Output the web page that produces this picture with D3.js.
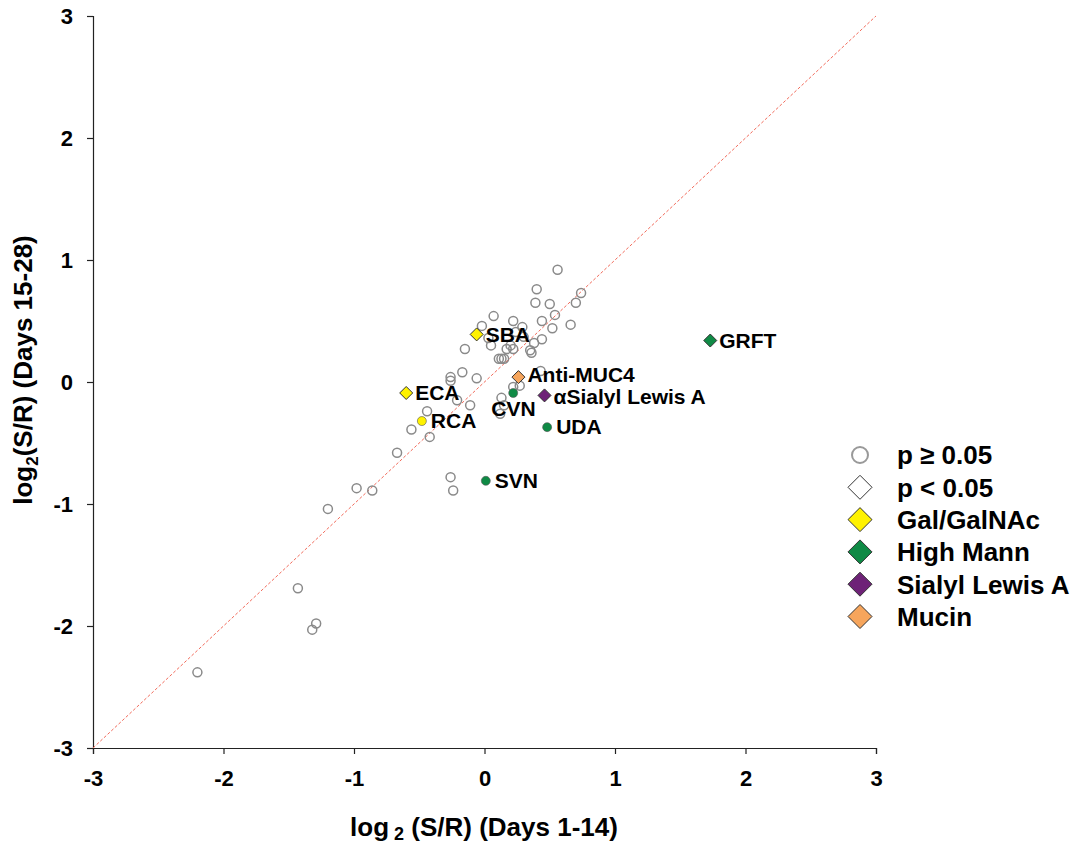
<!DOCTYPE html>
<html>
<head>
<meta charset="utf-8">
<script src="https://cdn.jsdelivr.net/npm/d3@7"></script>
<style>
  body { margin: 0; background: #fff; }
  text { font-family: Arial, "Liberation Sans", sans-serif; font-weight: bold; }
</style>
</head>
<body>
<svg></svg>
<script>
// p >= 0.05, no group highlight
let grayX = [0.56,0.40,0.74,0.39,0.50,0.70,0.54,0.07,0.44,0.66,0.22,-0.02,0.29,0.52,0.24,0.03,0.30,0.44,
             -0.15,0.05,0.20,0.22,0.17,0.38,0.35,0.36,0.11,0.13,0.15,-0.17,-0.26,-0.26,-0.06,0.43,0.22,0.27,
             0.13,0.15,0.12,-0.21,-0.11,-0.44,-0.56,-0.42,-0.67,-0.98,-0.86,-1.20,-0.26,-0.24,-1.43,-1.29,-1.32,-2.20];
let grayY = [0.92,0.76,0.73,0.65,0.64,0.65,0.55,0.54,0.50,0.47,0.50,0.46,0.45,0.44,0.41,0.36,0.37,0.35,
             0.27,0.30,0.30,0.27,0.27,0.32,0.26,0.24,0.19,0.19,0.19,0.08,0.04,0.01,0.03,0.09,-0.04,-0.03,
             -0.13,-0.19,-0.26,-0.15,-0.19,-0.24,-0.39,-0.45,-0.58,-0.87,-0.89,-1.04,-0.78,-0.89,-1.69,-1.98,-2.03,-2.38];

// highlighted lectins
let lectins = ["SBA","ECA","RCA","Anti-MUC4","CVN","αSialyl Lewis A","UDA","GRFT","SVN"];
let lectinX = [-0.06,-0.60,-0.48,0.26,0.22,0.46,0.48,1.73,0.01];
let lectinY = [0.39,-0.09,-0.32,0.04,-0.09,-0.11,-0.37,0.34,-0.81];
let lectinGroup = ["Gal/GalNAc","Gal/GalNAc","Gal/GalNAc","Mucin","High Mann","Sialyl Lewis A","High Mann","High Mann","High Mann"];
let lectinSig = [true,true,false,true,false,true,false,true,false];

let groups = ["Gal/GalNAc","High Mann","Sialyl Lewis A","Mucin"];
let groupColors = ["#fff200","#0f8a45","#6e2277","#f6a55c"];
let ticks = [-3,-2,-1,0,1,2,3];

var svgWidth = 1079, svgHeight = 846;
var svg = d3.select("svg").attr("width", svgWidth).attr("height", svgHeight);

var x = d3.scaleLinear().domain([-3,3]).range([93,876]);
var y = d3.scaleLinear().domain([-3,3]).range([748,16]);
var color = d3.scaleOrdinal().domain(groups).range(groupColors);

// axes
svg.append("g")
  .attr("transform", "translate(0,748)")
  .call(d3.axisBottom(x).tickValues(ticks).tickSize(6).tickPadding(16).tickFormat(d => String(d)));
svg.append("g")
  .attr("transform", "translate(93,0)")
  .call(d3.axisLeft(y).tickValues(ticks).tickSize(6).tickPadding(14).tickFormat(d => String(d)));
svg.selectAll(".domain, .tick line").attr("stroke", "#222").attr("stroke-width", 1.2);
svg.selectAll(".tick text").attr("font-size", 22).attr("fill", "#000")
   .style("font-family", "Arial, 'Liberation Sans', sans-serif").style("font-weight", "bold");

// identity line
svg.append("line")
  .attr("x1", x(-3)).attr("y1", y(-3)).attr("x2", x(3)).attr("y2", y(3))
  .attr("stroke", "#f26b5b").attr("stroke-width", 1).attr("stroke-dasharray", "3,2");

// gray points
svg.selectAll(".gray")
  .data(grayX)
  .enter()
  .append("circle")
  .attr("cx", d => x(d))
  .attr("cy", (d,i) => y(grayY[i]))
  .attr("r", 4.5)
  .attr("fill", "none")
  .attr("stroke", "#8a8a8a")
  .attr("stroke-width", 1.5);

function diamondPath(half) {
  return `M0,${-half}L${half},0L0,${half}L${-half},0Z`;
}

// highlighted points
var marks = svg.selectAll(".lectin")
  .data(lectins)
  .enter()
  .append("g")
  .attr("transform", (d,i) => `translate(${x(lectinX[i])},${y(lectinY[i])})`);

marks.each(function(d,i) {
  var g = d3.select(this);
  if (lectinSig[i]) {
    g.append("path").attr("d", diamondPath(6.5))
      .attr("fill", color(lectinGroup[i])).attr("stroke", "#333").attr("stroke-width", 1);
  } else {
    g.append("circle").attr("r", 4.5)
      .attr("fill", color(lectinGroup[i])).attr("stroke", "#555").attr("stroke-width", 0.6);
  }
  var lbl = g.append("text").text(d).attr("font-size", 21).attr("fill", "#000");
  if (d === "CVN") {
    lbl.attr("x", -22).attr("y", 16).attr("dy", "0.35em");
  } else if (d === "Anti-MUC4") {
    lbl.attr("x", 9).attr("y", -2).attr("dy", "0.35em");
  } else if (d === "αSialyl Lewis A") {
    lbl.attr("x", 9).attr("y", 1).attr("dy", "0.35em");
  } else {
    lbl.attr("x", 9).attr("dy", "0.35em");
  }
});

// axis titles
var xt = svg.append("text")
  .attr("x", 484).attr("y", 836)
  .attr("text-anchor", "middle")
  .attr("font-size", 26);
xt.append("tspan").text("log");
xt.append("tspan").text("2").attr("font-size", 18).attr("dx", 5).attr("dy", 4);
xt.append("tspan").text(" (S/R) (Days 1-14)").attr("dy", -4);

var yt = svg.append("text")
  .attr("transform", "translate(32,370) rotate(-90)")
  .attr("text-anchor", "middle")
  .attr("font-size", 26);
yt.append("tspan").text("log");
yt.append("tspan").text("2").attr("font-size", 17).attr("dy", 6);
yt.append("tspan").text("(S/R) (Days 15-28)").attr("dy", -6);

// legend
let legendLabels = ["p \u2265 0.05","p < 0.05"].concat(groups);
var legend = svg.selectAll(".legend")
  .data(legendLabels)
  .enter()
  .append("g")
  .attr("transform", (d,i) => `translate(860,${455 + i*32.3})`);

legend.each(function(d,i) {
  var g = d3.select(this);
  if (i === 0) {
    g.append("circle").attr("r", 8).attr("fill", "#fff").attr("stroke", "#999").attr("stroke-width", 2);
  } else {
    g.append("path").attr("d", diamondPath(12))
      .attr("fill", i === 1 ? "#fff" : color(d)).attr("stroke", "#333").attr("stroke-width", 1);
  }
  g.append("text").text(d).attr("x", 37).attr("dy", "0.36em").attr("font-size", 26).attr("fill", "#000");
});
</script>
</body>
</html>
